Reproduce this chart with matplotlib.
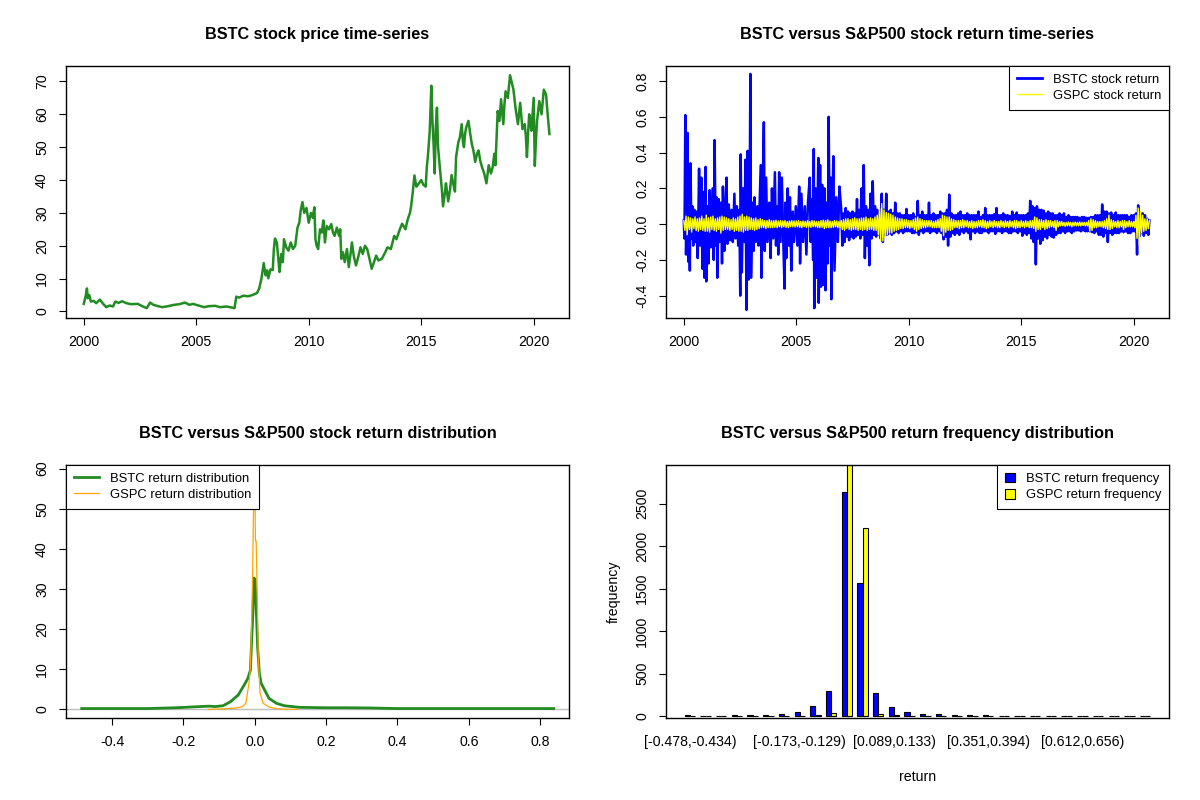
import matplotlib
matplotlib.use("Agg")
import matplotlib.pyplot as plt
from matplotlib.patches import Patch
from matplotlib.lines import Line2D
from matplotlib.ticker import FormatStrFormatter

plt.rcParams['font.family'] = ['Liberation Sans', 'DejaVu Sans']
plt.rcParams['axes.unicode_minus'] = False

# --- BSTC price ---
price_year = [2000.00, 2000.08, 2000.14, 2000.18, 2000.24, 2000.32, 2000.45, 2000.55, 2000.72, 2000.85,
              2001.00, 2001.15, 2001.30, 2001.40, 2001.55, 2001.70, 2001.90, 2002.10, 2002.40, 2002.60,
              2002.80, 2002.95, 2003.10, 2003.30, 2003.50, 2003.75, 2004.00, 2004.25, 2004.50, 2004.70,
              2004.85, 2005.10, 2005.35, 2005.55, 2005.85, 2006.05, 2006.35, 2006.55, 2006.70, 2006.78,
              2006.90, 2007.10, 2007.30, 2007.50, 2007.70, 2007.80, 2007.90, 2008.00, 2008.08, 2008.15,
              2008.20, 2008.30, 2008.40, 2008.45, 2008.50, 2008.58, 2008.65, 2008.70, 2008.78, 2008.85,
              2008.90, 2009.00, 2009.10, 2009.20, 2009.30, 2009.40, 2009.50, 2009.58, 2009.65, 2009.72,
              2009.80, 2009.90, 2010.00, 2010.10, 2010.18, 2010.25, 2010.30, 2010.35, 2010.42, 2010.50,
              2010.58, 2010.65, 2010.72, 2010.80, 2010.90, 2011.00, 2011.08, 2011.15, 2011.25, 2011.35,
              2011.40, 2011.45, 2011.52, 2011.60, 2011.70, 2011.78, 2011.85, 2011.92, 2012.00, 2012.10,
              2012.18, 2012.30, 2012.40, 2012.50, 2012.60, 2012.70, 2012.80, 2012.90, 2013.00, 2013.10,
              2013.25, 2013.40, 2013.50, 2013.65, 2013.80, 2013.90, 2014.05, 2014.15, 2014.30, 2014.40,
              2014.50, 2014.55, 2014.62, 2014.70, 2014.78, 2014.85, 2015.00, 2015.10, 2015.20, 2015.25,
              2015.30, 2015.38, 2015.45, 2015.50, 2015.55, 2015.60, 2015.65, 2015.70, 2015.75, 2015.80,
              2015.88, 2015.92, 2015.97, 2016.05, 2016.10, 2016.20, 2016.28, 2016.35, 2016.45, 2016.50,
              2016.55, 2016.65, 2016.72, 2016.80, 2016.85, 2016.90, 2016.95, 2017.00, 2017.10, 2017.18,
              2017.25, 2017.32, 2017.40, 2017.48, 2017.55, 2017.62, 2017.70, 2017.80, 2017.90, 2018.00,
              2018.10, 2018.18, 2018.25, 2018.30, 2018.35, 2018.40, 2018.48, 2018.55, 2018.65, 2018.70,
              2018.75, 2018.85, 2018.95, 2019.05, 2019.10, 2019.20, 2019.30, 2019.40, 2019.50, 2019.60,
              2019.65, 2019.70, 2019.75, 2019.80, 2019.85, 2019.90, 2020.00, 2020.05, 2020.10, 2020.15,
              2020.25, 2020.35, 2020.45, 2020.55, 2020.62, 2020.70]
price_value = [2.3, 4.5, 7.0, 4.0, 5.0, 3.0, 3.2, 2.5, 3.6, 2.4,
               1.3, 1.8, 1.5, 3.0, 2.6, 3.1, 2.5, 2.2, 2.3, 1.6,
               1.0, 2.7, 2.0, 1.6, 1.3, 1.6, 2.0, 2.2, 2.7, 2.0,
               2.3, 1.8, 1.3, 1.6, 1.7, 1.3, 1.5, 1.2, 1.0, 4.5,
               4.2, 4.8, 4.6, 5.0, 5.6, 7.0, 10.1, 14.7, 11.0, 12.5,
               10.1, 12.8, 12.6, 19.0, 22.2, 21.0, 16.0, 12.0, 17.5, 15.0,
               22.0, 19.5, 18.5, 21.0, 19.0, 20.0, 25.5, 27.0, 31.0, 33.3,
               30.0, 31.5, 27.0, 30.0, 28.5, 31.7, 22.0, 20.0, 19.0, 25.0,
               24.0, 27.7, 21.0, 26.0, 25.0, 26.6, 24.0, 23.0, 25.5, 23.0,
               25.0, 16.0, 18.0, 15.0, 19.0, 13.5, 17.0, 21.0, 17.0, 14.0,
               16.0, 19.5, 17.5, 20.0, 19.0, 16.0, 13.0, 15.0, 17.0, 15.5,
               16.0, 18.0, 19.5, 19.0, 23.0, 22.0, 25.0, 26.7, 25.0, 28.0,
               30.0, 32.0, 36.0, 41.4, 38.0, 38.5, 40.0, 38.5, 38.0, 44.0,
               47.5, 55.0, 68.7, 58.0, 51.0, 42.0, 56.0, 62.0, 50.0, 46.0,
               40.0, 37.0, 32.0, 36.0, 39.0, 33.5, 37.0, 41.5, 38.0, 36.5,
               47.0, 51.5, 53.0, 57.0, 52.0, 50.0, 54.0, 56.0, 58.0, 54.0,
               51.0, 49.0, 45.5, 48.0, 49.0, 46.0, 44.0, 42.0, 39.0, 44.5,
               42.0, 44.0, 48.0, 44.5, 53.0, 61.0, 58.0, 64.6, 57.0, 63.0,
               67.0, 65.0, 71.9, 69.0, 67.5, 61.5, 57.0, 63.5, 55.5, 57.0,
               53.5, 47.0, 54.0, 60.0, 58.0, 55.0, 65.0, 44.3, 52.0, 58.0,
               64.0, 60.0, 67.5, 66.0, 60.0, 54.0]

# --- BSTC returns 2000-2006, peaks and troughs ---
bstc_ret_year_early = [
    2000.00, 2000.03, 2000.07, 2000.10, 2000.14, 2000.17, 2000.20, 2000.24, 2000.27, 2000.30,
    2000.34, 2000.38, 2000.42, 2000.47, 2000.52, 2000.58, 2000.62, 2000.68, 2000.72, 2000.78,
    2000.83, 2000.89, 2000.92, 2000.97, 2001.00, 2001.05, 2001.10, 2001.15, 2001.20, 2001.28,
    2001.33, 2001.37, 2001.42, 2001.46, 2001.49, 2001.55, 2001.60, 2001.66, 2001.70, 2001.74,
    2001.80, 2001.85, 2001.90, 2001.94, 2002.00, 2002.05, 2002.12, 2002.18, 2002.25, 2002.30,
    2002.36, 2002.42, 2002.47, 2002.51, 2002.53, 2002.58, 2002.64, 2002.70, 2002.74, 2002.79,
    2002.84, 2002.88, 2002.93, 2002.96, 2002.99, 2003.05, 2003.10, 2003.14, 2003.20, 2003.27,
    2003.32, 2003.42, 2003.45, 2003.50, 2003.56, 2003.60, 2003.66, 2003.72, 2003.80, 2003.86,
    2003.92, 2003.98, 2004.05, 2004.10, 2004.17, 2004.20, 2004.24, 2004.30, 2004.36, 2004.42,
    2004.48, 2004.52, 2004.56, 2004.62, 2004.68, 2004.72, 2004.78, 2004.84, 2004.90, 2004.98,
    2005.05, 2005.13, 2005.17, 2005.23, 2005.30, 2005.38, 2005.45, 2005.52, 2005.60, 2005.64,
    2005.70, 2005.75, 2005.78, 2005.80, 2005.86, 2005.90, 2005.98, 2006.00, 2006.06, 2006.10,
    2006.15, 2006.20, 2006.25, 2006.30, 2006.35, 2006.40, 2006.44, 2006.49, 2006.53, 2006.56,
    2006.62, 2006.65, 2006.70, 2006.78, 2006.85, 2006.92]
bstc_ret_early = [
    0.02, -0.08, 0.61, -0.17, 0.06, 0.51, -0.21, 0.22, -0.26, 0.34,
    -0.08, 0.10, -0.12, 0.08, -0.10, 0.07, -0.19, 0.31, -0.12, 0.26,
    -0.25, 0.18, -0.30, 0.32, -0.32, 0.10, -0.22, 0.19, -0.13, 0.20,
    -0.20, 0.47, -0.12, 0.15, -0.30, 0.14, -0.10, 0.12, -0.22, 0.21,
    -0.15, 0.09, 0.26, -0.11, 0.11, -0.09, 0.08, -0.10, 0.17, -0.08,
    0.10, -0.12, 0.08, -0.40, 0.39, -0.27, 0.20, -0.10, 0.36, -0.48,
    0.41, -0.31, 0.15, 0.84, -0.30, 0.12, -0.15, 0.15, -0.10, 0.10,
    -0.12, 0.33, -0.30, 0.12, 0.57, -0.15, 0.26, -0.10, 0.12, -0.19,
    0.20, -0.08, 0.29, -0.12, 0.10, -0.17, 0.29, -0.10, 0.26, -0.08,
    -0.36, 0.12, -0.19, 0.20, -0.12, 0.15, -0.26, 0.07, -0.10, 0.10,
    -0.12, 0.21, -0.22, 0.17, -0.10, 0.10, -0.17, 0.12, 0.26, -0.10,
    0.14, -0.20, 0.42, -0.47, 0.20, -0.30, 0.37, -0.44, 0.33, -0.35,
    0.22, -0.34, 0.20, -0.37, 0.12, -0.22, 0.60, -0.12, 0.26, -0.42,
    0.20, 0.38, -0.26, 0.15, -0.10, 0.21]

# --- BSTC returns from 2007 on, one reading every 0.05 year ---
bstc_ret_late_start = 2007.0
bstc_ret_late = [
    0.08, -0.12, 0.06, -0.10, 0.09, -0.07, 0.07, -0.09, 0.06, -0.07, 0.07, -0.08, 0.06, -0.07, 0.14, -0.06, 0.08, -0.08, 0.20, -0.06,
    0.33, -0.19, 0.10, -0.12, 0.08, -0.23, 0.17, -0.08, 0.24, -0.06, 0.10, -0.07, 0.08, -0.06, 0.06, -0.08, 0.17, -0.10, 0.08, -0.06,
    0.17, -0.06, 0.07, -0.05, 0.08, -0.06, 0.06, -0.05, 0.12, -0.04, 0.06, -0.05, 0.06, -0.04, 0.05, -0.05, 0.05, -0.04, 0.085, -0.04,
    0.05, -0.04, 0.05, -0.05, 0.06, -0.05, 0.04, -0.045, 0.13, -0.06, 0.05, -0.04, 0.07, -0.05, 0.05, -0.04, 0.05, -0.04, 0.12, -0.05,
    0.05, -0.04, 0.06, -0.04, 0.05, -0.05, 0.05, -0.04, 0.07, -0.05, 0.06, -0.085, 0.06, -0.07, 0.08, -0.12, 0.165, -0.07, 0.06, -0.05,
    0.05, -0.06, 0.05, -0.05, 0.06, -0.06, 0.07, -0.04, 0.05, -0.05, 0.05, -0.04, 0.06, -0.05, 0.05, -0.085, 0.05, -0.04, 0.05, -0.05,
    0.05, -0.04, 0.07, -0.05, 0.04, -0.05, 0.05, -0.04, 0.09, -0.04, 0.05, -0.05, 0.05, -0.04, 0.05, -0.04, 0.055, -0.055, 0.09, -0.04,
    0.05, -0.04, 0.05, -0.05, 0.06, -0.04, 0.05, -0.04, 0.05, -0.05, 0.045, -0.05, 0.07, -0.04, 0.05, -0.04, 0.065, -0.05, 0.05, -0.04,
    0.05, -0.065, 0.05, -0.05, 0.05, -0.06, 0.06, -0.05, 0.13, -0.08, 0.10, -0.10, 0.09, -0.225, 0.10, -0.08, 0.08, -0.11, 0.08, -0.09,
    0.075, -0.07, 0.06, -0.08, 0.07, -0.06, 0.06, -0.07, 0.06, -0.075, 0.05, -0.06, 0.05, -0.05, 0.06, -0.05, 0.05, -0.04, 0.06, -0.05,
    0.04, -0.04, 0.05, -0.04, 0.04, -0.05, 0.04, -0.04, 0.04, -0.035, 0.04, -0.035, 0.035, -0.04, 0.04, -0.035, 0.04, -0.04, 0.035, -0.04,
    0.035, -0.04, 0.04, -0.045, 0.04, -0.05, 0.05, -0.04, 0.05, -0.06, 0.05, -0.06, 0.11, -0.07, 0.07, -0.05, 0.07, -0.10, 0.06, -0.05,
    0.065, -0.06, 0.05, -0.05, 0.065, -0.05, 0.05, -0.05, 0.05, -0.04, 0.05, -0.045, 0.05, -0.04, 0.05, -0.05, 0.04, -0.05, 0.05, -0.04,
    0.05, -0.04, 0.06, -0.17, 0.105, -0.07, 0.06, -0.05, 0.06, -0.065, 0.05, -0.05, 0.03, -0.06, 0.02]

# --- S&P500 returns, one reading every 0.05 year from 2000 ---
gspc_ret_start = 2000.0
gspc_ret = [
    0.02, -0.035, 0.045, -0.06, 0.04, -0.03, 0.035, -0.045, 0.03, -0.025, 0.04, -0.035, 0.03, -0.04, 0.035, -0.03, 0.045, -0.035, 0.03, -0.04,
    0.05, -0.04, 0.035, -0.045, 0.04, -0.03, 0.045, -0.035, 0.03, -0.04, 0.035, -0.03, 0.04, -0.05, 0.045, -0.035, 0.04, -0.03, 0.035, -0.03,
    0.03, -0.035, 0.025, -0.03, 0.035, -0.04, 0.03, -0.035, 0.04, -0.04, 0.045, -0.04, 0.055, -0.045, 0.04, -0.035, 0.045, -0.035, 0.04, -0.03,
    0.035, -0.03, 0.03, -0.035, 0.035, -0.03, 0.025, -0.025, 0.03, -0.02, 0.025, -0.02, 0.02, -0.025, 0.02, -0.02, 0.025, -0.02, 0.02, -0.02,
    0.02, -0.018, 0.022, -0.02, 0.018, -0.015, 0.02, -0.02, 0.018, -0.015, 0.02, -0.018, 0.015, -0.02, 0.018, -0.015, 0.02, -0.015, 0.018, -0.016,
    0.018, -0.015, 0.02, -0.018, 0.015, -0.02, 0.018, -0.015, 0.015, -0.018, 0.02, -0.015, 0.015, -0.018, 0.02, -0.015, 0.018, -0.015, 0.015, -0.02,
    0.015, -0.02, 0.02, -0.018, 0.022, -0.025, 0.02, -0.02, 0.025, -0.02, 0.018, -0.02, 0.015, -0.018, 0.02, -0.015, 0.018, -0.02, 0.015, -0.018,
    0.02, -0.03, 0.025, -0.035, 0.03, -0.025, 0.03, -0.03, 0.025, -0.035, 0.03, -0.03, 0.035, -0.03, 0.03, -0.035, 0.03, -0.03, 0.035, -0.035,
    0.035, -0.03, 0.04, -0.035, 0.03, -0.03, 0.035, -0.03, 0.03, -0.035, 0.04, -0.035, 0.05, -0.06, 0.09, -0.09, 0.115, -0.095, 0.08, -0.075,
    0.065, -0.06, 0.06, -0.05, 0.055, -0.05, 0.05, -0.04, 0.04, -0.035, 0.035, -0.03, 0.03, -0.025, 0.03, -0.025, 0.025, -0.02, 0.025, -0.02,
    0.02, -0.025, 0.02, -0.02, 0.025, -0.03, 0.035, -0.04, 0.04, -0.03, 0.03, -0.025, 0.025, -0.02, 0.02, -0.02, 0.02, -0.015, 0.02, -0.015,
    0.02, -0.02, 0.015, -0.02, 0.02, -0.02, 0.025, -0.02, 0.03, -0.04, 0.05, -0.065, 0.045, -0.045, 0.04, -0.035, 0.04, -0.035, 0.03, -0.03,
    0.025, -0.02, 0.02, -0.02, 0.02, -0.025, 0.02, -0.02, 0.025, -0.02, 0.02, -0.015, 0.02, -0.02, 0.015, -0.02, 0.02, -0.025, 0.015, -0.02,
    0.015, -0.02, 0.02, -0.015, 0.02, -0.02, 0.025, -0.02, 0.02, -0.025, 0.015, -0.02, 0.02, -0.015, 0.015, -0.02, 0.02, -0.015, 0.015, -0.02,
    0.015, -0.02, 0.02, -0.015, 0.015, -0.02, 0.02, -0.015, 0.015, -0.02, 0.02, -0.015, 0.015, -0.02, 0.02, -0.025, 0.02, -0.02, 0.015, -0.02,
    0.02, -0.015, 0.015, -0.02, 0.02, -0.015, 0.015, -0.02, 0.02, -0.02, 0.02, -0.025, 0.04, -0.04, 0.035, -0.03, 0.025, -0.03, 0.025, -0.02,
    0.02, -0.03, 0.025, -0.025, 0.02, -0.02, 0.02, -0.015, 0.015, -0.02, 0.02, -0.035, 0.02, -0.015, 0.015, -0.01, 0.015, -0.01, 0.01, -0.012,
    0.01, -0.01, 0.012, -0.01, 0.01, -0.015, 0.01, -0.01, 0.012, -0.01, 0.01, -0.01, 0.012, -0.01, 0.01, -0.008, 0.01, -0.01, 0.01, -0.01,
    0.02, -0.04, 0.03, -0.035, 0.025, -0.02, 0.02, -0.02, 0.015, -0.015, 0.015, -0.015, 0.015, -0.02, 0.02, -0.025, 0.03, -0.03, 0.05, -0.03,
    0.025, -0.025, 0.02, -0.015, 0.015, -0.02, 0.02, -0.02, 0.015, -0.015, 0.02, -0.03, 0.02, -0.02, 0.015, -0.015, 0.02, -0.015, 0.015, -0.015,
    0.015, -0.02, 0.05, -0.08, 0.09, -0.12, 0.07, -0.05, 0.05, -0.04, 0.03, -0.035, 0.03, -0.025, 0.02]
RET_STEP = 0.05

# --- kernel densities of the returns ---
bstc_dens_x = [-0.485, -0.30, -0.262, -0.22, -0.175, -0.127, -0.111, -0.089, -0.068, -0.046,
               -0.030, -0.019, -0.012, -0.009, -0.005, -0.002, 0.001, 0.004, 0.008, 0.013,
               0.018, 0.040, 0.061, 0.083, 0.126, 0.200, 0.256, 0.320, 0.400, 0.838]
bstc_dens_y = [0.2, 0.2, 0.3, 0.4, 0.6, 0.8, 0.7, 0.9, 1.9, 3.6,
               6.0, 7.75, 9.8, 16.5, 24.0, 32.75, 32.3, 25.7, 15.7, 9.0,
               6.5, 2.75, 1.5, 0.9, 0.5, 0.4, 0.4, 0.35, 0.2, 0.2]
gspc_dens_x = [-0.13, -0.095, -0.057, -0.036, -0.025, -0.016, -0.012, -0.009, -0.006, -0.004,
               -0.002, 0.0, 0.002, 0.004, 0.007, 0.010, 0.015, 0.024, 0.040, 0.061, 0.088, 0.12]
gspc_dens_y = [0.0, 0.1, 0.3, 0.6, 1.5, 6.5, 10.7, 20.7, 33.0, 46.0,
               55.0, 60.5, 42.0, 42.0, 29.0, 13.0, 4.0, 1.5, 0.6, 0.15, 0.02, 0.0]

# --- return frequency per bin (30 bins) ---
bstc_freq = [12, 3, 2, 10, 10, 8, 25, 45, 115, 300, 2640, 1570, 268, 105, 45,
             25, 25, 12, 10, 10, 2, 1, 1, 1, 0, 0, 1, 0, 0, 1]
gspc_freq = [0, 0, 0, 0, 0, 0, 0, 2, 10, 35, 2960, 2210, 22, 8, 3,
             0, 0, 0, 0, 0, 0, 0, 0, 0, 0, 0, 0, 0, 0, 0]
hist_label_bins = [0, 7, 13, 19, 25]
hist_labels = ["[-0.478,-0.434)", "[-0.173,-0.129)", "[0.089,0.133)", "[0.351,0.394)", "[0.612,0.656)"]

W, H = 1200, 800
FS = 10.2
LFS = 9.4
TFS = 11.7
fig = plt.figure(figsize=(12, 8), dpi=100)


def box(x0, y0, x1, y1):
    return [x0 / W, 1 - y1 / H, (x1 - x0) / W, (y1 - y0) / H]


def style(ax, title, ticks=True):
    for s in ax.spines.values():
        s.set_linewidth(1.0)
    ax.tick_params(direction='out', length=5.2 if ticks else 0, width=0.8,
                   labelsize=FS, pad=7.0)
    ax.tick_params(axis='y', labelrotation=90)
    for lab in ax.get_yticklabels():
        lab.set_va('center')
    ax.text(0.5, 1 + 31.5 / 252.5, title, transform=ax.transAxes, ha='center',
            va='center', fontsize=TFS, fontweight='bold')


def legend(ax, handles, labels, loc, **kw):
    leg = ax.legend(handles, labels, loc=loc, frameon=True, fancybox=False,
                    edgecolor='black', framealpha=1, borderaxespad=0, fontsize=LFS,
                    labelspacing=0.3, borderpad=0.6, **kw)
    leg.get_frame().set_linewidth(0.8)


# 1. price
ax1 = fig.add_axes(box(66, 65.7, 569, 318))
ax1.plot(price_year, price_value, color='forestgreen', lw=1.8)
ax1.set_xlim(1999.21, 2021.57)
ax1.set_ylim(-2.0, 74.8)
ax1.set_xticks([2000, 2005, 2010, 2015, 2020])
ax1.set_yticks(range(0, 71, 10))
style(ax1, "BSTC stock price time-series")

# 2. returns
bstc_ret_year = bstc_ret_year_early + [bstc_ret_late_start + RET_STEP * i for i in range(len(bstc_ret_late))]
bstc_ret = bstc_ret_early + bstc_ret_late
gspc_ret_year = [gspc_ret_start + RET_STEP * i for i in range(len(gspc_ret))]
ax2 = fig.add_axes(box(666, 65.7, 1169, 318))
ax2.plot(bstc_ret_year, bstc_ret, color='blue', lw=1.8)
ax2.plot(gspc_ret_year, gspc_ret, color='yellow', lw=1.0)
ax2.set_xlim(1999.21, 2021.57)
ax2.set_ylim(-0.525, 0.886)
ax2.set_xticks([2000, 2005, 2010, 2015, 2020])
ax2.set_yticks([-0.4, -0.2, 0.0, 0.2, 0.4, 0.6, 0.8])
ax2.yaxis.set_major_formatter(FormatStrFormatter('%.1f'))
style(ax2, "BSTC versus S&P500 stock return time-series")
legend(ax2, [Line2D([], [], color='blue', lw=2.0), Line2D([], [], color='yellow', lw=1.0)],
       ["BSTC stock return", "GSPC stock return"], 'upper right',
       handlelength=1.9, handletextpad=0.85)

# 3. densities
ax3 = fig.add_axes(box(66, 465, 569, 717.7))
ax3.axhline(0, color='#BEBEBE', lw=1.0, zorder=1)
ax3.plot(bstc_dens_x, bstc_dens_y, color='forestgreen', lw=2.0, zorder=2)
ax3.plot(gspc_dens_x, gspc_dens_y, color='orange', lw=0.9, zorder=3)
ax3.set_xlim(-0.529, 0.881)
ax3.set_ylim(-2.08, 60.9)
ax3.set_xticks([-0.4, -0.2, 0.0, 0.2, 0.4, 0.6, 0.8])
ax3.xaxis.set_major_formatter(FormatStrFormatter('%.1f'))
ax3.set_yticks(range(0, 61, 10))
style(ax3, "BSTC versus S&P500 stock return distribution")
legend(ax3, [Line2D([], [], color='forestgreen', lw=2.0), Line2D([], [], color='orange', lw=0.9)],
       ["BSTC return distribution", "GSPC return distribution"], 'upper left',
       handlelength=1.9, handletextpad=0.85)

# 4. frequency bars
ax4 = fig.add_axes(box(666, 465, 1169, 717.7))
n = len(bstc_freq)
left = [1 + 3 * i for i in range(n)]
ax4.bar([v + 0.5 for v in left], bstc_freq, width=1, color='blue', edgecolor='black', lw=0.8)
ax4.bar([v + 1.5 for v in left], gspc_freq, width=1, color='yellow', edgecolor='black', lw=0.8)
ax4.set_xlim(-2.56, 93.56)
ax4.set_ylim(-20, 2953)
ax4.set_xticks([left[i] + 1 for i in hist_label_bins])
ax4.set_xticklabels(hist_labels)
ax4.set_yticks(range(0, 2501, 500))
style(ax4, "BSTC versus S&P500 return frequency distribution")
ax4.tick_params(axis='x', length=0, pad=12.5)
ax4.set_xlabel("return", fontsize=FS, labelpad=15)
ax4.set_ylabel("frequency", fontsize=FS, labelpad=10)
legend(ax4, [Patch(facecolor='blue', edgecolor='black', lw=0.8),
             Patch(facecolor='yellow', edgecolor='black', lw=0.8)],
       ["BSTC return frequency", "GSPC return frequency"], 'upper right',
       handlelength=0.75, handleheight=0.75, handletextpad=0.85)

fig.savefig("out.png", dpi=100, facecolor='white')
